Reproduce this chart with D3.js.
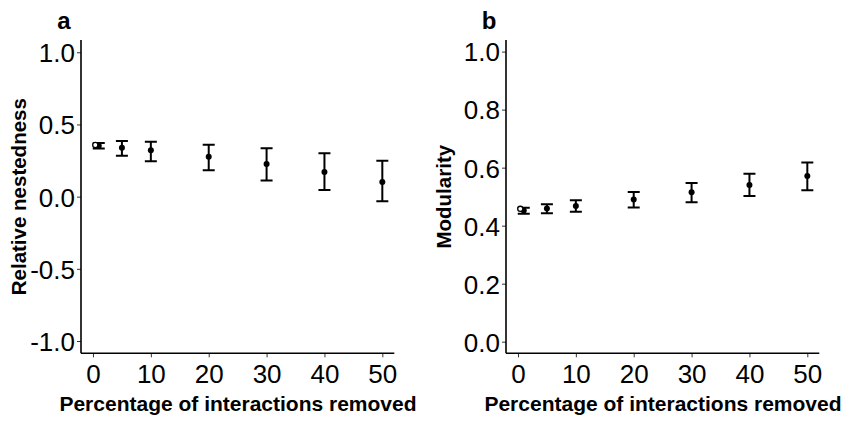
<!DOCTYPE html>
<html>
<head>
<meta charset="utf-8">
<script src="https://cdn.jsdelivr.net/npm/d3@7"></script>
<style>
  body { margin: 0; background: #fff; }
  text { font-family: "Liberation Sans", Arial, sans-serif; }
</style>
</head>
<body>
<svg id="chart" width="850" height="425"></svg>
<script>
// removal levels (percent)
var removed = [1, 5, 10, 20, 30, 40, 50];

// panel a: relative nestedness
var nestObs = 0.358;   // original network (open circle)
var nestMean = [0.353, 0.339, 0.321, 0.277, 0.226, 0.171, 0.102];
var nestLow  = [0.333, 0.284, 0.245, 0.183, 0.111, 0.046, -0.032];
var nestHigh = [0.372, 0.386, 0.381, 0.360, 0.335, 0.300, 0.249];

// panel b: modularity
var modObs = 0.458;
var modMean = [0.452, 0.459, 0.468, 0.490, 0.515, 0.540, 0.571];
var modLow  = [0.441, 0.443, 0.448, 0.463, 0.481, 0.502, 0.522];
var modHigh = [0.462, 0.474, 0.488, 0.516, 0.547, 0.579, 0.618];

var xTicks = [0, 10, 20, 30, 40, 50];
var nestTicks = [-1.0, -0.5, 0.0, 0.5, 1.0];
var modTicks = [0.0, 0.2, 0.4, 0.6, 0.8, 1.0];

var svg = d3.select("#chart");
var fmt1 = function (d) { return d3.format(".1f")(d).replace("\u2212", "-"); };

function panel(opts) {
    var g = svg.append("g");
    var x = d3.scaleLinear().domain([-2.07, 52.07]).range([opts.left, opts.left + 313.3]);
    var y = d3.scaleLinear().domain(opts.ydom).range([353.3, 40]);

    // axes
    var xa = g.append("g").attr("transform", "translate(0,353.3)")
        .call(d3.axisBottom(x).tickValues(xTicks).tickSize(4).tickPadding(6).tickFormat(d3.format("d")));
    var ya = g.append("g").attr("transform", "translate(" + opts.left + ",0)")
        .call(d3.axisLeft(y).tickValues(opts.ticks).tickSize(4).tickPadding(2).tickFormat(fmt1));
    [xa, ya].forEach(function (a) {
        a.select(".domain").remove();
        a.selectAll(".tick line").attr("stroke", "#333").attr("stroke-width", 1);
        a.selectAll(".tick text").attr("fill", "#000").style("font-size", "26px")
            .attr("font-family", "Liberation Sans, Arial, sans-serif");
    });
    // axis lines as plain lines (no end ticks)
    g.append("line").attr("x1", opts.left).attr("x2", opts.left + 313.3)
        .attr("y1", 353.3).attr("y2", 353.3).attr("stroke", "#000").attr("stroke-width", 1.6);
    g.append("line").attr("x1", opts.left).attr("x2", opts.left)
        .attr("y1", 40).attr("y2", 353.3).attr("stroke", "#000").attr("stroke-width", 1.6);
    ya.selectAll(".tick text").attr("dy", "0.36em");
    xa.selectAll(".tick text").attr("dy", "0.74em");

    // error bars
    var idx = d3.range(removed.length);
    g.selectAll(".bar").data(idx).enter().append("path")
        .attr("fill", "none").attr("stroke", "#000").attr("stroke-width", 2)
        .attr("d", function (i) {
            var cx = x(removed[i]), lo = y(opts.low[i]), hi = y(opts.high[i]);
            return "M" + (cx - 6) + "," + hi + "H" + (cx + 6) +
                "M" + cx + "," + hi + "V" + lo +
                "M" + (cx - 6) + "," + lo + "H" + (cx + 6);
        });
    g.selectAll(".pt").data(idx).enter().append("circle")
        .attr("cx", function (i) { return x(removed[i]); })
        .attr("cy", function (i) { return y(opts.mean[i]); })
        .attr("r", 3).attr("fill", "#000");
    // observed value
    g.append("circle").attr("cx", x(0.4)).attr("cy", y(opts.obs))
        .attr("r", 2.6).attr("fill", "#fff").attr("stroke", "#000").attr("stroke-width", 1.3);

    // labels
    g.append("text").attr("x", opts.left - 17).attr("y", 29)
        .attr("text-anchor", "middle").style("font-size", "24px").style("font-weight", "bold")
        .text(opts.letter);
    g.append("text").attr("x", opts.left + 157).attr("y", 411)
        .attr("text-anchor", "middle").style("font-size", "21px").style("font-weight", "bold")
        .text("Percentage of interactions removed");
    g.append("text").attr("transform", "translate(" + (opts.left - 55) + ",196.7) rotate(-90)")
        .attr("text-anchor", "middle").style("font-size", "20.5px").style("font-weight", "bold")
        .text(opts.ylab);
}

panel({ left: 81, ydom: [-1.085, 1.085], ticks: nestTicks, letter: "a",
        ylab: "Relative nestedness", obs: nestObs, mean: nestMean, low: nestLow, high: nestHigh });
panel({ left: 506, ydom: [-0.04, 1.04], ticks: modTicks, letter: "b",
        ylab: "Modularity", obs: modObs, mean: modMean, low: modLow, high: modHigh });
</script>
</body>
</html>
